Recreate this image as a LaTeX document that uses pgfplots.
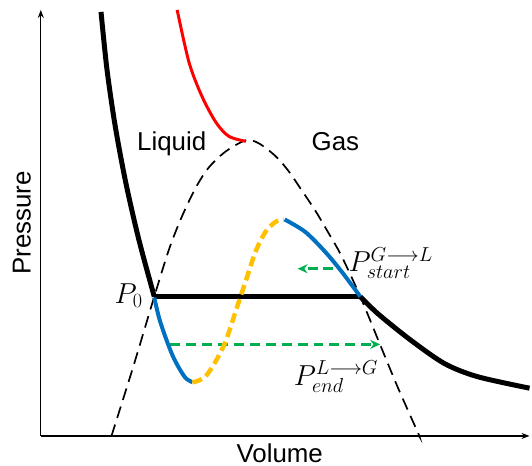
\RequirePackage{fix-cm}
\documentclass[border=0pt]{standalone}
\usepackage{fontspec}
\setmainfont{Liberation Sans}
\usepackage{pgfplots}
\pgfplotsset{compat=1.18}
\usetikzlibrary{arrows.meta}
\definecolor{myblue}{RGB}{0,112,192}
\definecolor{myyellow}{RGB}{255,192,0}
\definecolor{mygreen}{RGB}{0,176,80}
\newcommand\lab{\fontsize{26bp}{30bp}\selectfont}
\newcommand\mlab{\fontsize{29bp}{33bp}\selectfont}
\begin{document}
\begin{tikzpicture}
\begin{axis}[width=491bp,height=428bp,scale only axis,
  xmin=41,xmax=532,ymin=0,ymax=428,
  axis lines=left,ticks=none,clip=false,
  axis line style={line width=1.3bp,-{Stealth[length=8bp,width=6bp]}}]
% bounding box
\path (axis cs:0,438) rectangle (axis cs:532,-30);
% binodal (dashed)
\addplot[black,line width=1.7bp,dash pattern=on 12bp off 7bp,smooth] coordinates {
(112,0) (134,70) (155,140) (170,188) (183,221) (197,250) (210,270)
(227,286) (247,297) (260,294) (277,281) (290,266) (303,247) (317,226)
(330,204) (343,181) (362,140) (383,89) (400,48) (420,3) (421,0)};
% red supercritical
\addplot[red,line width=3bp,smooth] coordinates {
(178,428) (190,375) (203,341) (217,315) (230,301) (247,296)};
% black isotherm
\addplot[black,line width=5bp,smooth] coordinates {
(101.5,426) (107.4,368.8) (115.7,311.6) (126.4,254.4) (139.5,197.2) (155,140)};
\addplot[black,line width=5bp] coordinates {(155,140) (362,140)};
\addplot[black,line width=5bp,smooth] coordinates {
(362,140) (380,122.5) (413,96) (447,72.5) (480,59.5) (532,48)};
% green arrows
\addplot[mygreen,line width=2.6bp,dash pattern=on 10bp off 6bp,-{Stealth[length=10bp,width=9bp]}] coordinates {(171,92) (382,92)};
\addplot[mygreen,line width=2.6bp,dash pattern=on 10bp off 6bp,-{Stealth[length=10bp,width=9bp]}] coordinates {(335,168) (299,168)};
% van der Waals loop
\addplot[myblue,line width=4bp,smooth] coordinates {
(155,139) (160,118) (166.7,98) (173.3,81) (180,68) (186.7,58) (193.3,54)};
\addplot[myyellow,line width=4.5bp,dash pattern=on 10bp off 5bp,smooth] coordinates {
(193.3,54) (198,55) (206.7,60) (216.7,75) (226.7,95) (236.7,125) (246.7,155)
(256.7,185) (266.7,205) (276.7,215) (285,217.5)};
\addplot[myblue,line width=4bp,smooth] coordinates {
(286,217.5) (306.7,205) (326.7,185) (343.3,165) (362,140)};
% labels
\node[anchor=base,inner sep=0pt,font=\lab] at (axis cs:172.5,287) {Liquid};
\node[anchor=base,inner sep=0pt,font=\lab] at (axis cs:337,287) {Gas};
\node[anchor=base,inner sep=0pt,font=\lab] at (axis cs:281,-27) {Volume};
\node[rotate=90,inner sep=0pt,font=\lab] at (axis cs:22,214) {Pressure};
\node[anchor=base west,inner sep=0pt,font=\mlab] at (axis cs:115,133) {$P_0$};
\node[anchor=base west,inner sep=0pt,font=\mlab] at (axis cs:350,165) {$P^{G\longrightarrow L}_{start}$};
\node[anchor=base west,inner sep=0pt,font=\mlab] at (axis cs:295,51) {$P^{L\longrightarrow G}_{end}$};
\end{axis}
\end{tikzpicture}
\end{document}
